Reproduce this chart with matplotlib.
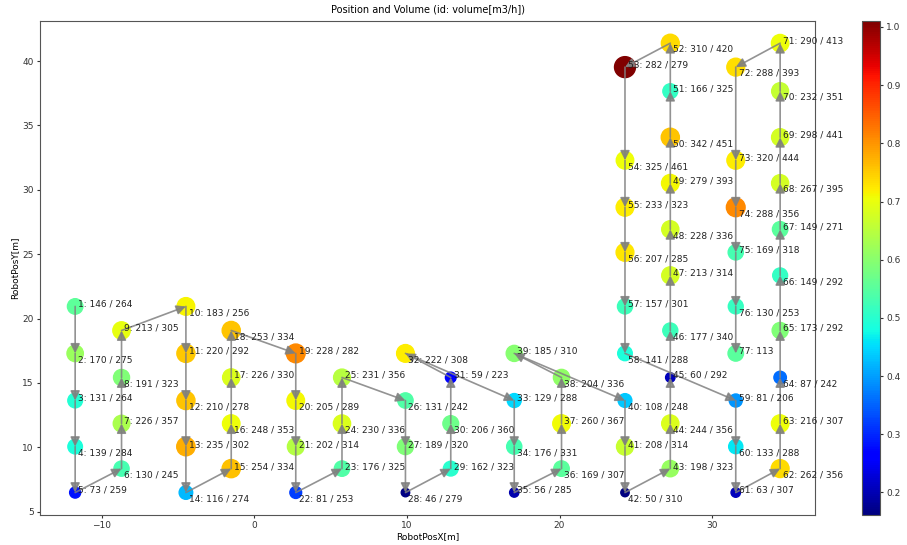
import numpy as np
import matplotlib
matplotlib.use("Agg")
from matplotlib import pyplot as plt

# robot positions (visiting order = id) and volumes (measured / reference)
ids = list(range(1, 78))
pos_x = [-11.75, -11.75, -11.75, -11.75, -11.75,
         -8.71, -8.71, -8.71, -8.71,
         -4.49, -4.49, -4.49, -4.49, -4.49,
         -1.52, -1.52, -1.52, -1.52,
         2.71, 2.71, 2.71, 2.71,
         5.74, 5.74, 5.74,
         9.90, 9.90, 9.90,
         12.87, 12.87, 12.87,
         9.90,
         17.03, 17.03, 17.03,
         20.13, 20.13, 20.13,
         17.03,
         24.29, 24.29, 24.29,
         27.26, 27.26, 27.26, 27.26, 27.26, 27.26, 27.26, 27.26, 27.26, 27.26,
         24.29, 24.29, 24.29, 24.29, 24.29, 24.29,
         31.55, 31.55, 31.55,
         34.46, 34.46, 34.46, 34.46, 34.46, 34.46, 34.46, 34.46, 34.46, 34.46,
         31.55, 31.55, 31.55, 31.55, 31.55, 31.55]
pos_y = [20.94, 17.29, 13.63, 10.05, 6.48,
         8.34, 11.84, 15.42, 19.07,
         20.94, 17.29, 13.63, 10.05, 6.48,
         8.34, 11.84, 15.42, 19.07,
         17.29, 13.63, 10.05, 6.48,
         8.34, 11.84, 15.42,
         13.63, 10.05, 6.48,
         8.34, 11.84, 15.42,
         17.29,
         13.63, 10.05, 6.48,
         8.34, 11.84, 15.42,
         17.29,
         13.63, 10.05, 6.48,
         8.34, 11.84, 15.42, 19.07, 23.35, 26.93, 30.51, 34.08, 37.66, 41.39,
         39.53, 32.29, 28.64, 25.14, 20.94, 17.29,
         13.63, 10.05, 6.48,
         8.34, 11.84, 15.42, 19.07, 23.35, 26.93, 30.51, 34.08, 37.66, 41.39,
         39.53, 32.29, 28.64, 25.14, 20.94, 17.29]
vol = [146, 170, 131, 139, 73, 130, 226, 191, 213, 183,
       220, 210, 235, 116, 254, 248, 226, 253, 228, 205,
       202, 81, 176, 230, 231, 131, 189, 46, 162, 206,
       59, 222, 129, 176, 56, 169, 260, 204, 185, 108,
       208, 50, 198, 244, 60, 177, 213, 228, 279, 342,
       166, 310, 282, 325, 233, 207, 157, 141, 81, 133,
       63, 262, 216, 87, 173, 149, 149, 267, 298, 232,
       290, 288, 320, 288, 169, 130, 113]
vol_ref = [264, 275, 264, 284, 259, 245, 357, 323, 305, 256,
           292, 278, 302, 274, 334, 353, 330, 334, 282, 289,
           314, 253, 325, 336, 356, 242, 320, 279, 323, 360,
           223, 308, 288, 331, 285, 307, 367, 336, 310, 248,
           314, 310, 323, 356, 292, 340, 314, 336, 393, 451,
           325, 420, 279, 461, 323, 285, 301, 288, 206, 288,
           307, 356, 307, 242, 292, 292, 271, 395, 441, 351,
           413, 393, 444, 356, 318, 253, None]
ratio_missing = 0.55  # id 77 has no reference value, colour read from picture

ratio = np.array([v / r if r else ratio_missing for v, r in zip(vol, vol_ref)])
labels = [f"{i}: {v} / {r}" if r else f"{i}: {v}" for i, v, r in zip(ids, vol, vol_ref)]

fig = plt.figure(figsize=(9.07, 5.45), dpi=100)
ax = fig.add_axes([0.044, 0.055, 0.855, 0.907])
cax = fig.add_axes([0.950, 0.055, 0.020, 0.907])

sc = ax.scatter(pos_x, pos_y, c=ratio, s=ratio * 225, cmap="jet", zorder=2)

for i in range(len(ids) - 1):
    ax.annotate("", xy=(pos_x[i + 1], pos_y[i + 1]), xytext=(pos_x[i], pos_y[i]),
                arrowprops=dict(arrowstyle="-|>", color="gray", lw=1.2, alpha=0.85,
                                mutation_scale=14, shrinkA=0, shrinkB=0),
                zorder=3)

for i, lab in enumerate(labels):
    dy = 1.5 if ids[i] % 2 == 1 else -4.5
    ax.annotate(lab, (pos_x[i], pos_y[i]), xytext=(2, dy), textcoords="offset points",
                fontsize=6.5, color="#222222", va="center", ha="left", zorder=4)

ax.set_title("Position and Volume (id: volume[m3/h])", fontsize=7)
ax.set_xlabel("RobotPosX[m]", fontsize=6.5, labelpad=1)
ax.set_ylabel("RobotPosY[m]", fontsize=6.5, labelpad=2)
ax.tick_params(labelsize=6.5, colors="#333333", length=2.5, pad=2)
for sp in ax.spines.values():
    sp.set_color("#555555")

cb = fig.colorbar(sc, cax=cax)
cb.set_ticks([0.2, 0.3, 0.4, 0.5, 0.6, 0.7, 0.8, 0.9, 1.0])
cb.ax.tick_params(labelsize=6.5, colors="#333333", length=2.5, pad=2)
cb.outline.set_edgecolor("#555555")

fig.savefig("out.png", dpi=100)
